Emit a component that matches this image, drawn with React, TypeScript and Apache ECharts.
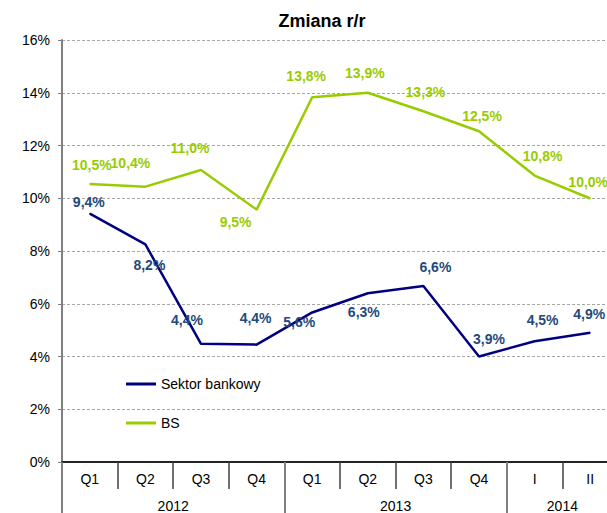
import React, { useEffect, useRef } from "react";
import * as echarts from "echarts";

const categories = ["Q1", "Q2", "Q3", "Q4", "Q1", "Q2", "Q3", "Q4", "I", "II"];
const years = ["2012", "2013", "2014"];
const yearSpans = [4, 4, 2];
const yTicks = [0, 2, 4, 6, 8, 10, 12, 14, 16];

const seriesNames = ["Sektor bankowy", "BS"];
const bankValues = [9.42, 8.25, 4.48, 4.45, 5.67, 6.4, 6.67, 4.0, 4.58, 4.9];
const bankLabels = ["9,4%", "8,2%", "4,4%", "4,4%", "5,6%", "6,3%", "6,6%", "3,9%", "4,5%", "4,9%"];
const bsValues = [10.54, 10.44, 11.07, 9.57, 13.83, 14.0, 13.3, 12.54, 10.86, 9.99];
const bsLabels = ["10,5%", "10,4%", "11,0%", "9,5%", "13,8%", "13,9%", "13,3%", "12,5%", "10,8%", "10,0%"];

// label placement (layout, not data)
const bankOffsets = [[-1, -12], [4, 21], [-14, -24], [-1, -27], [-13, 10], [-4, 19], [12, -19], [10, -18], [8, -21], [-1, -19]];
const bsOffsets = [[2, -19], [-15, -24], [-11, -22], [-21, 12], [-6, -21], [-3, -20], [2, -19], [3, -15], [8, -20], [-2, -17]];

const FONT = "'Liberation Sans', Arial, sans-serif";
const BLUE = "#000080";
const BLUE_LABEL = "#1F4A7C";
const GREEN = "#99CC00";

export default function App() {
  const ref = useRef<HTMLDivElement>(null);
  useEffect(() => {
    if (!ref.current) return;
    const chart = echarts.init(ref.current, undefined, { renderer: "svg" });

    // year axis: 2 slots per category, boundaryGap false
    const total = categories.length * 2;
    const yearData: string[] = [];
    for (let i = 0; i <= total; i++) yearData.push("");
    const yearTickIdx: number[] = [0];
    const yearLabelIdx = new Set<number>();
    let acc = 0;
    yearSpans.forEach((s, k) => {
      const center = acc * 2 + s;
      yearData[center] = years[k];
      yearLabelIdx.add(center);
      acc += s;
      yearTickIdx.push(acc * 2);
    });

    const mk = (vals: number[], labels: string[], offs: number[][], color: string, lblColor: string, name: string) => ({
      name,
      type: "line",
      data: vals.map((v, i) => ({
        value: v,
        label: { offset: offs[i] },
      })),
      symbol: "circle",
      symbolSize: 1,
      itemStyle: { color },
      lineStyle: { color, width: 2.5 },
      label: {
        show: true,
        position: "inside",
        align: "center",
        verticalAlign: "middle",
        color: lblColor,
        fontFamily: FONT,
        fontWeight: "bold",
        fontSize: 14,
        formatter: (p: any) => labels[p.dataIndex],
      },
      z: 3,
    });

    chart.setOption({
      animation: false,
      backgroundColor: "#ffffff",
      grid: { left: 62, top: 40, bottom: 50, right: 2, containLabel: false },
      graphic: [
        {
          type: "text",
          x: 322,
          y: 21,
          style: {
            text: "Zmiana r/r",
            font: `bold 18px ${FONT}`,
            fill: "#000",
            textAlign: "center",
            textVerticalAlign: "middle",
          },
        },
      ],
      legend: {
        orient: "vertical",
        left: 121,
        top: 372,
        itemWidth: 30,
        itemHeight: 3,
        itemGap: 25,
        icon: "rect",
        textStyle: { fontFamily: FONT, fontSize: 14, color: "#000" },
        data: seriesNames,
      },
      xAxis: [
        {
          type: "category",
          data: categories,
          boundaryGap: true,
          position: "bottom",
          axisLine: { show: true, lineStyle: { color: "#222", width: 2 } },
          axisTick: { show: true, interval: 0, length: 27, lineStyle: { color: "#404040", width: 1.5 } },
          axisLabel: { interval: 0, margin: 10, fontFamily: FONT, fontSize: 14, color: "#000" },
          splitLine: { show: false },
        },
        {
          type: "category",
          data: yearData,
          boundaryGap: false,
          position: "bottom",
          axisLine: { show: false },
          axisTick: {
            show: true,
            length: 60,
            interval: (idx: number) => yearTickIdx.includes(idx),
            lineStyle: { color: "#808080", width: 2 },
          },
          axisLabel: {
            interval: (idx: number) => yearLabelIdx.has(idx),
            margin: 37,
            fontFamily: FONT,
            fontSize: 14,
            color: "#000",
          },
          splitLine: { show: false },
        },
      ],
      yAxis: {
        type: "value",
        min: yTicks[0],
        max: yTicks[yTicks.length - 1],
        interval: 2,
        axisLine: { show: true, lineStyle: { color: "#808080", width: 2 } },
        axisTick: { show: true, length: 4, lineStyle: { color: "#808080" } },
        axisLabel: {
          margin: 12,
          fontFamily: FONT,
          fontSize: 14,
          color: "#000",
          formatter: (v: number) => `${v}%`,
        },
        splitLine: { show: true, lineStyle: { color: "#A6A6A6", type: [3, 2], width: 1 } },
      },
      series: [
        mk(bankValues, bankLabels, bankOffsets, BLUE, BLUE_LABEL, seriesNames[0]),
        mk(bsValues, bsLabels, bsOffsets, GREEN, GREEN, seriesNames[1]),
      ],
    });
    return () => chart.dispose();
  }, []);
  return (
    <div style={{ width: 607, height: 513, position: "absolute", left: 0, top: 0, overflow: "hidden" }}>
      <div ref={ref} style={{ width: 620, height: 513 }} />
    </div>
  );
}
